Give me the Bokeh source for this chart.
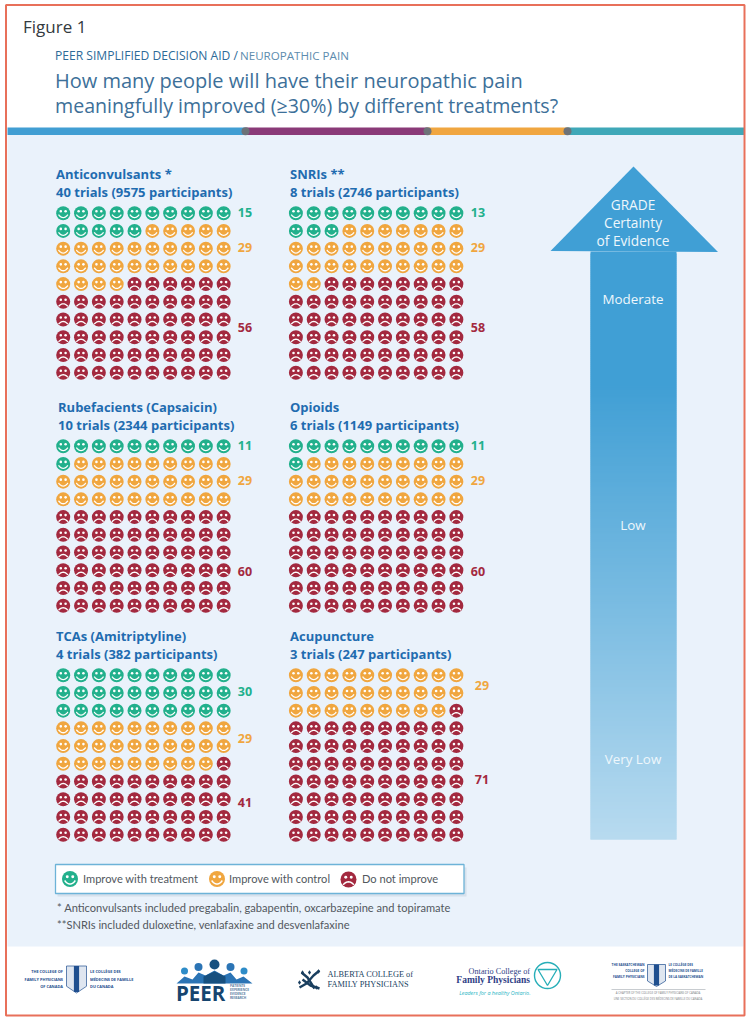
import numpy as np
from bokeh.plotting import figure
from bokeh.models import Range1d
from bokeh.core.properties import value
from bokeh.embed import file_html
from bokeh.resources import INLINE

# ---- data ----
panel_titles = ["Anticonvulsants *", "SNRIs **", "Rubefacients (Capsaicin)", "Opioids", "TCAs (Amitriptyline)", "Acupuncture"]
panel_subtitles = ["40 trials (9575 participants)", "8 trials (2746 participants)", "10 trials (2344 participants)",
                   "6 trials (1149 participants)", "4 trials (382 participants)", "3 trials (247 participants)"]
improve_treatment = [15, 13, 11, 11, 30, 0]
improve_control = [29, 29, 29, 29, 29, 29]
no_improve = [56, 58, 60, 60, 41, 71]
grade_levels = ["Moderate", "Low", "Very Low"]
legend_labels = ["Improve with treatment", "Improve with control", "Do not improve"]

# ---- layout ----
W, H = 750, 1021
FONT = "Open Sans"
LIGHT = "Lato"
GREEN, ORANGE, RED = "#22b08c", "#f0a63f", "#a3293f"
BLUE = "#1f6cb0"
grid_x = [62.7, 295.4, 62.7, 295.4, 62.7, 295.4]
grid_y = [212.7, 212.7, 445.7, 445.7, 674.7, 674.7]
title_x = [56, 290, 58, 290, 56, 290]
title_y = [174, 174, 407, 407, 636, 636]
count_x = [245, 478, 245, 478, 245, 482]
count_y = [(213, 248, 328), (213, 248, 328), (446, 481, 572), (446, 481, 572), (692, 739, 803), (None, 686, 780)]
DX, DY = 17.83, 17.72

p = figure(width=W, height=H, x_range=Range1d(0, W), y_range=Range1d(H, 0),
           x_axis_type=None, y_axis_type=None, toolbar_location=None,
           output_backend="svg", min_border=0, outline_line_color=None,
           background_fill_color="white", border_fill_color="white")
p.grid.visible = False


def txt(x, y, s, size, color, align="left", style="normal", font=FONT):
    p.text([x - 0.5], [y - 0.8], text=[s], text_font=value(font), text_font_size=f"{size}px", text_color=color,
           text_align=align, text_baseline="middle", text_font_style=style)


def faces(xs, ys, color, happy, r=7.0):
    xs, ys = np.asarray(xs, float), np.asarray(ys, float)
    if len(xs) == 0:
        return
    k = r / 7.0
    p.scatter(xs, ys, size=2 * r, color=color, line_color=None)
    p.scatter(np.r_[xs - 2.4 * k, xs + 2.4 * k], np.r_[ys - 2.0 * k, ys - 2.0 * k], size=2.6 * k, color="white", line_color=None)
    t = np.linspace(-1, 1, 11)
    mx, my = [], []
    for x, y in zip(xs, ys):
        mx.append(list(x + 4.7 * k * t))
        if happy:
            my.append(list(y + k * (4.4 - 3.0 * t ** 2)))
        else:
            my.append(list(y + k * (2.0 + 2.6 * t ** 2)))
    p.multi_line(mx, my, line_color="white", line_width=1.3 * k)


# frame, background
p.quad(left=[7], right=[743], top=[134], bottom=[946], color="#eaf2fb", line_color=None)
for l, r, c in [(7, 245, "#419ed3"), (245, 427, "#8a3a78"), (427, 567, "#f0a640"), (567, 744, "#3fa8b8")]:
    p.quad(left=[l], right=[r], top=[127], bottom=[134.5], color=c, line_color=None)
p.scatter([245, 427, 567], [130.7, 130.7, 130.7], size=8, color="#6d7278", line_color=None)
p.quad(left=[5.5], right=[744], top=[4.5], bottom=[1015], fill_color=None, line_color="#e8705a", line_width=2)

# header
txt(23, 27, "Figure 1", 17, "#333a40")
txt(55, 56, "PEER SIMPLIFIED DECISION AID /", 12.1, "#2d6a98")
txt(240, 56, "NEUROPATHIC PAIN", 11.6, "#5d8cae")
txt(55, 81, "How many people will have their neuropathic pain", 20, "#3d7099")
txt(55, 106, "meaningfully improved (\u226530%) by different treatments?", 19.6, "#3d7099")

# panels
for i in range(6):
    txt(title_x[i], title_y[i], panel_titles[i], 13, BLUE, style="bold")
    txt(title_x[i], title_y[i] + 18, panel_subtitles[i], 13, BLUE, style="bold")
    seq = [0] * improve_treatment[i] + [1] * improve_control[i] + [2] * no_improve[i]
    gx = np.array([grid_x[i] + DX * (n % 10) for n in range(100)])
    gy = np.array([grid_y[i] + DY * (n // 10) for n in range(100)])
    seq = np.array(seq)
    for kind, col, happy in [(0, GREEN, True), (1, ORANGE, True), (2, RED, False)]:
        faces(gx[seq == kind], gy[seq == kind], col, happy)
    for val, yy, col in zip((improve_treatment[i], improve_control[i], no_improve[i]), count_y[i], (GREEN, ORANGE, RED)):
        if val:
            txt(count_x[i], yy, str(val), 12.5, col, align="center", style="bold")

# GRADE arrow
p.patch([633, 717.5, 550], [166, 251.5, 250.5], color="#409fd5", line_color=None)
ys = np.arange(251, 838, 2.0)
tops = np.array([64, 159, 213])
bots = np.array([184, 219, 240])
frac = np.clip((ys - 380) / (838 - 380), 0, 1)
cols = ["#%02x%02x%02x" % tuple(int(v) for v in tops + (bots - tops) * f) for f in frac]
p.quad(left=590, right=676, top=ys, bottom=np.minimum(ys + 4, 839), color=cols, line_color=None)
for s, y in zip(["GRADE", "Certainty", "of Evidence"], [205, 223, 241]):
    txt(633, y, s, 13.7, "#eef7fc", align="center")
for s, y in zip(grade_levels, [299, 525, 759]):
    txt(633, y, s, 13.4, "#eef7fc", align="center")

# legend
p.quad(left=[57], right=[466], top=[867], bottom=[896], color="#c9d6e2", alpha=0.6, line_color=None)
p.quad(left=[55], right=[463.5], top=[864], bottom=[893], fill_color="white", line_color="#6db3d8", line_width=1.3)
faces([69.5], [878.5], GREEN, True, r=8)
faces([216.5], [878.5], ORANGE, True, r=8)
faces([348], [879], RED, False, r=8)
txt(83, 878.5, legend_labels[0], 11.1, "#52585e", font=LIGHT)
txt(229, 878.5, legend_labels[1], 11.1, "#52585e", font=LIGHT)
txt(362, 878.5, legend_labels[2], 11.1, "#52585e", font=LIGHT)

# footnotes
txt(57, 907.5, "* Anticonvulsants included pregabalin, gabapentin, oxcarbazepine and topiramate", 11.1, "#52585e", font=LIGHT)
txt(57, 924.5, "**SNRIs included duloxetine, venlafaxine and desvenlafaxine", 11.1, "#52585e", font=LIGHT)

# logos
NAVY = "#1f4f8f"
DARK = "#16456f"


def shield(cx, cy, w, h):
    p.patch([cx - w / 2, cx + w / 2, cx + w / 2, cx, cx - w / 2],
            [cy - h / 2, cy - h / 2, cy + h / 4, cy + h / 2, cy + h / 4],
            fill_color="#dfe6f0", line_color=NAVY, line_width=0.7)
    p.quad(left=[cx - 2.6], right=[cx + 2.6], top=[cy - h / 2], bottom=[cy + h / 2 - 1], color=NAVY, line_color=None)


for s, y in zip(["THE COLLEGE OF", "FAMILY PHYSICIANS", "OF CANADA"], [972, 979.5, 986.5]):
    txt(63, y, s, 3.9, NAVY, align="right", style="bold")
for s, y in zip(["LE COLL\u00c8GE DES", "M\u00c9DECINS DE FAMILLE", "DU CANADA"], [972, 979.5, 986.5]):
    txt(90, y, s, 3.9, NAVY, align="left", style="bold")
shield(76, 979, 20, 27)

# PEER logo
p.scatter([184, 198, 214, 230, 243.5], [970.5, 966.5, 964, 966.5, 970.5], size=[7, 8, 10, 8, 7],
          color=["#2e8cc8", "#2b74b5", "#17507f", "#2b74b5", "#2e8cc8"], line_color=None)
p.patch([176, 184, 192, 198, 205, 214, 223, 230, 236, 243, 252, 252, 176],
        [983, 976, 979, 972, 975, 970, 975, 972, 979, 976, 983, 983, 983], color="#2b74b5", line_color=None)
p.patch([203, 214, 225, 225, 203], [976, 971, 976, 983, 983], color="#17507f", line_color=None)
txt(176, 993, "PEER", 20.5, DARK, style="bold")
for s, y in zip(["PATIENTS", "EXPERIENCE", "EVIDENCE", "RESEARCH"], [986, 990, 994, 998]):
    txt(230, y, s, 3.2, "#5a7ea0", style="bold")

# Alberta logo
p.multi_line([[299, 306, 313, 319], [301, 307, 314], [302, 310, 319]], [[987, 983, 975, 970], [972, 977, 988], [979, 985, 988]],
             line_color="#1a3f5f", line_width=2.4)
p.scatter([318, 302, 299, 309, 316], [971, 972, 982, 972, 987], size=4.5, color="#1a3f5f", marker="diamond", line_color=None)
txt(327.5, 975, "ALBERTA COLLEGE of", 8.3, "#1a3f5f", font="Liberation Serif")
txt(327.5, 985, "FAMILY PHYSICIANS", 8.3, "#1a3f5f", font="Liberation Serif")

# Ontario logo
txt(530, 971.5, "Ontario College of", 8.2, "#2f3f86", align="right", font="Liberation Serif")
txt(530, 980.5, "Family Physicians", 9.5, "#2f3f86", align="right", style="bold", font="Liberation Serif")
txt(530.5, 993, "Leaders for a healthy Ontario.", 5.4, "#2bb5c4", align="right", style="italic")
p.scatter([547], [975], size=26, fill_color=None, line_color="#27aeb8", line_width=1.4)
p.patch([537.5, 556.5, 547], [969, 969, 985], fill_color=None, line_color="#27aeb8", line_width=1.3)

# Saskatchewan logo
for s, y in zip(["THE SASKATCHEWAN", "COLLEGE OF", "FAMILY PHYSICIANS"], [965, 971, 977]):
    txt(644.5, y, s, 3.2, NAVY, align="right", style="bold")
for s, y in zip(["LE COLL\u00c8GE DES", "M\u00c9DECINS DE FAMILLE", "DE LA SASKATCHEWAN"], [965, 971, 977]):
    txt(668.5, y, s, 3.1, NAVY, align="left", style="bold")
shield(656, 975, 18, 22)
p.line([611, 705], [989, 989], line_color="#c8ccd0", line_width=1)
txt(658, 993.5, "A CHAPTER OF THE COLLEGE OF FAMILY PHYSICIANS OF CANADA", 2.8, "#777b80", align="center")
txt(658, 999.5, "UNE SECTION DU COLL\u00c8GE DES M\u00c9DECINS DE FAMILLE DU CANADA", 2.8, "#777b80", align="center")

open("out.html", "w").write(file_html(p, INLINE))
